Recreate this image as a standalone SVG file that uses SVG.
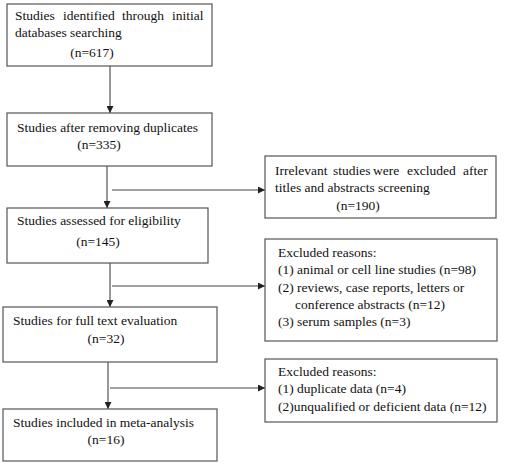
<svg xmlns="http://www.w3.org/2000/svg" width="507" height="465" viewBox="0 0 507 465">
<defs>
<marker id="ah" viewBox="0 0 10 10" refX="10" refY="5" markerWidth="7" markerHeight="7" markerUnits="userSpaceOnUse" orient="auto">
<path d="M0,0 L10,5 L0,10 z" fill="#222"/>
</marker>
<style>
.box{fill:#fff;stroke:#555;stroke-width:1.2}
.t{font-family:"Liberation Serif","Times New Roman",serif;font-size:13.5px;fill:#111}
.c{text-anchor:middle}
.ln{stroke:#444;stroke-width:1.1;fill:none;marker-end:url(#ah)}
</style>
</defs>
<rect width="507" height="465" fill="#fff"/>
<g id="connectors">
<line class="ln" x1="110" y1="66" x2="110" y2="113"/>
<line class="ln" x1="107" y1="166" x2="107" y2="208"/>
<line class="ln" x1="112" y1="190" x2="265" y2="190"/>
<line class="ln" x1="110" y1="263" x2="110" y2="307"/>
<line class="ln" x1="112" y1="286" x2="265" y2="286"/>
<line class="ln" x1="108" y1="362" x2="108" y2="409"/>
<line class="ln" x1="110" y1="388" x2="265" y2="388"/>
</g>
<g id="n1">
<rect class="box" x="7" y="4" width="205" height="62"/>
<text class="t" y="20"><tspan x="15">Studies</tspan><tspan x="63">identified</tspan><tspan x="122">through</tspan><tspan x="172">initial</tspan></text>
<text class="t" x="15" y="37">databases searching</text>
<text class="t c" x="92" y="57">(n=617)</text>
</g>
<g id="n2">
<rect class="box" x="7" y="113" width="205" height="53"/>
<text class="t" x="17" y="132">Studies after removing duplicates</text>
<text class="t c" x="99" y="149">(n=335)</text>
</g>
<g id="n3">
<rect class="box" x="7" y="208" width="201" height="55"/>
<text class="t" x="17" y="225">Studies assessed for eligibility</text>
<text class="t c" x="98" y="246">(n=145)</text>
</g>
<g id="n4">
<rect class="box" x="3" y="307" width="214" height="55"/>
<text class="t" x="13" y="325">Studies for full text evaluation</text>
<text class="t c" x="106" y="343">(n=32)</text>
</g>
<g id="n5">
<rect class="box" x="3" y="409" width="214" height="52"/>
<text class="t" x="13" y="427">Studies included in meta-analysis</text>
<text class="t c" x="106" y="444">(n=16)</text>
</g>
<g id="r1">
<rect class="box" x="265" y="156" width="231" height="62"/>
<text class="t" y="175"><tspan x="275">Irrelevant</tspan><tspan x="333">studies</tspan><tspan x="373">were</tspan><tspan x="407">excluded</tspan><tspan x="463">after</tspan></text>
<text class="t" x="275" y="192">titles and abstracts screening</text>
<text class="t c" x="358" y="210">(n=190)</text>
</g>
<g id="r2">
<rect class="box" x="265" y="239" width="232" height="102"/>
<text class="t" x="278" y="257">Excluded reasons:</text>
<text class="t" x="278" y="274">(1) animal or cell line studies (n=98)</text>
<text class="t" x="278" y="292">(2) reviews, case reports, letters or</text>
<text class="t" x="295" y="309">conference abstracts (n=12)</text>
<text class="t" x="278" y="326">(3) serum samples (n=3)</text>
</g>
<g id="r3">
<rect class="box" x="265" y="359" width="232" height="63"/>
<text class="t" x="278" y="376">Excluded reasons:</text>
<text class="t" x="278" y="393">(1) duplicate data (n=4)</text>
<text class="t" x="278" y="411">(2)unqualified or deficient data (n=12)</text>
</g>
</svg>
